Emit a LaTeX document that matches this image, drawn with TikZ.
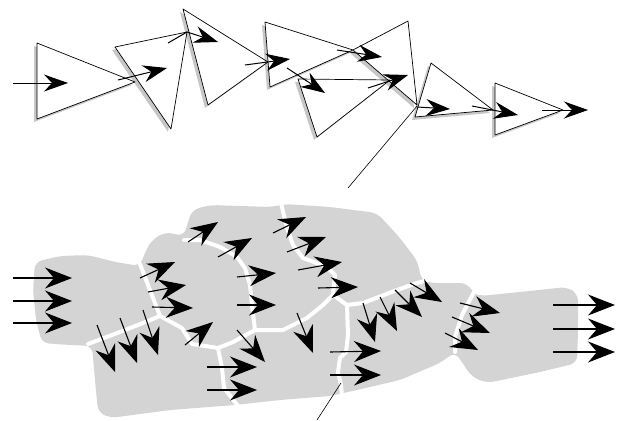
\documentclass[tikz,border=0pt]{standalone}
\usepackage{tikz}
\usetikzlibrary{arrows.meta}

% one drop-shadowed white triangle (outline drawn later)
\newcommand{\shadetri}[3]{%
  \fill[trishade, shift={(-3,3)}] #1 -- #2 -- #3 -- cycle;
  \fill[white] #1 -- #2 -- #3 -- cycle;}

\begin{document}
\begin{tikzpicture}[x=1pt, y=-1pt,
  flow/.style={-{Stealth[length=27pt, width=21pt, inset=9pt]}, line width=1.1pt},
  chainflow/.style={-{Stealth[length=24pt, width=17pt, inset=8pt]}, line width=1pt},
  trishade/.style={fill=black!22},
  triedge/.style={draw=black, line width=0.7pt, line join=round},
  blob/.style={fill=black!17, rounded corners=7pt},
  seam/.style={draw=white, line width=4pt, line cap=round, line join=round},
  leader/.style={line width=0.6pt}
]
\useasboundingbox (0,0) rectangle (623,420);

% --- upper chain of triangles
\shadetri{(37,43)}{(37,119)}{(135,82)}
\shadetri{(115,47)}{(171,129)}{(187,32)}
\shadetri{(183,9)}{(208,105)}{(268,62)}
\shadetri{(265,22)}{(270,87)}{(353,50)}
\shadetri{(298,79)}{(317,137)}{(390,80)}
\shadetri{(353,50)}{(408,21)}{(417,105)}
\shadetri{(431,63)}{(415,117)}{(493,110)}
\shadetri{(495,83)}{(495,135)}{(563,110)}
\foreach \p/\q/\r in {
  {(37,43)}/{(37,119)}/{(135,82)},
  {(115,47)}/{(171,129)}/{(187,32)},
  {(183,9)}/{(208,105)}/{(268,62)},
  {(265,22)}/{(270,87)}/{(353,50)},
  {(298,79)}/{(317,137)}/{(390,80)},
  {(353,50)}/{(408,21)}/{(417,105)},
  {(431,63)}/{(415,117)}/{(493,110)},
  {(495,83)}/{(495,135)}/{(563,110)}}
  \draw[triedge] \p -- \q -- \r -- cycle;

\foreach \s/\t in {
  {(13,83)}/{(68,83)}, {(118,80)}/{(167,68)}, {(245,65)}/{(290,59)},
  {(287,68)}/{(325,93)}, {(337,50)}/{(382,57)}, {(368,88)}/{(408,75)},
  {(417,107)}/{(450,109)}, {(472,106)}/{(518,115)}, {(542,110)}/{(588,110)}}
  \draw[chainflow] \s -- \t;
\draw[chainflow] (168,43) -- (187,32) -- (218,42);

\draw[leader] (417,106) -- (348,188);

% --- lower cell field
\path[blob] (35,262) -- (60,256) -- (88,255) -- (115,262) -- (140,266)
  -- (146,250) -- (152,240) -- (165,232) -- (184,236) -- (188,222)
  -- (192,210) -- (210,205) -- (240,206) -- (272,207) -- (285,204)
  -- (330,207) -- (377,213) -- (400,238) -- (418,262) -- (421,280)
  -- (430,283) -- (467,283) -- (474,294) -- (480,296) -- (520,292)
  -- (567,287) -- (578,294) -- (578,330) -- (577,363) -- (540,372)
  -- (487,383) -- (472,377) -- (455,352) -- (440,363) -- (400,380)
  -- (357,390) -- (330,396) -- (280,400) -- (235,405) -- (170,410)
  -- (110,418) -- (98,412) -- (95,380) -- (92,346) -- (70,345)
  -- (42,343) -- (36,320) -- (33,290) -- cycle;

\draw[seam] (140,264) -- (148,285) -- (160,316);
\draw[seam] (88,344) -- (120,332) -- (143,323) -- (160,316)
  -- (182,328) -- (192,344) -- (218,348) -- (233,342) -- (255,330);
\draw[seam] (218,348) -- (222,368) -- (224,388) -- (238,406);
\draw[seam] (184,240) -- (200,240) -- (220,247) -- (237,257) -- (245,268)
  -- (250,285) -- (252,305) -- (255,330) -- (283,330) -- (307,318)
  -- (323,305) -- (333,295);
\draw[seam] (281,203) -- (287,228) -- (293,245) -- (303,258) -- (327,267)
  -- (335,275) -- (333,295) -- (347,305) -- (363,303) -- (397,290)
  -- (417,283) -- (428,280);
\draw[seam] (347,305) -- (348,335) -- (346,352) -- (340,358) -- (338,372)
  -- (341,385) -- (342,397);
\draw[seam] (474,292) -- (462,315) -- (455,337) -- (455,352);

\foreach \s/\t in {
  {(13,278)}/{(72,278)}, {(13,301)}/{(72,301)}, {(13,323)}/{(72,323)},
  {(140,278)}/{(175,262)}, {(148,292)}/{(186,285)}, {(152,307)}/{(193,308)},
  {(97,325)}/{(115,372)}, {(120,318)}/{(137,363)}, {(143,310)}/{(158,355)},
  {(185,345)}/{(213,322)}, {(188,242)}/{(218,222)}, {(218,257)}/{(252,238)},
  {(273,233)}/{(306,217)}, {(287,252)}/{(326,237)}, {(298,270)}/{(342,262)},
  {(318,288)}/{(358,287)}, {(237,277)}/{(276,273)}, {(237,305)}/{(276,305)},
  {(237,330)}/{(265,362)}, {(297,313)}/{(313,353)},
  {(207,367)}/{(257,367)}, {(207,390)}/{(257,390)},
  {(330,352)}/{(381,351)}, {(330,375)}/{(381,375)},
  {(363,303)}/{(375,342)}, {(380,297)}/{(397,331)}, {(395,290)}/{(422,317)},
  {(410,283)}/{(442,302)},
  {(460,303)}/{(500,313)}, {(452,317)}/{(490,333)}, {(445,333)}/{(478,350)},
  {(553,305)}/{(615,305)}, {(553,329)}/{(615,329)}, {(553,352)}/{(615,352)}}
  \draw[flow] \s -- \t;

\draw[leader] (341,383) -- (317,420);
\end{tikzpicture}
\end{document}
